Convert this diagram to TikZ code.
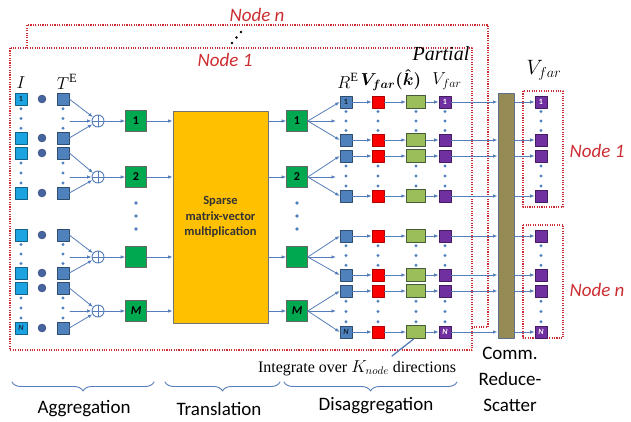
\documentclass[tikz,border=0pt]{standalone}
\usepackage{fontspec}
\setmainfont{Liberation Serif}
\setsansfont{Carlito}
\usetikzlibrary{arrows.meta,decorations.pathreplacing}

\definecolor{nodered}{RGB}{204,45,50}
\definecolor{inblue}{RGB}{28,163,226}
\definecolor{teblue}{RGB}{79,129,189}
\definecolor{linkblue}{RGB}{84,125,185}
\definecolor{prodblue}{RGB}{70,100,160}
\definecolor{aggreen}{RGB}{0,168,80}
\definecolor{smyellow}{RGB}{255,192,0}
\definecolor{kred}{RGB}{250,0,0}
\definecolor{partgreen}{RGB}{155,190,90}
\definecolor{partedge}{RGB}{70,90,60}
\definecolor{vpurple}{RGB}{112,48,160}
\definecolor{commbrown}{RGB}{150,139,85}
\definecolor{commedge}{RGB}{90,112,140}

\tikzset{
  sq/.style={draw, minimum size=12pt, inner sep=0pt, line width=0.6pt,
    font=\sffamily\bfseries\fontsize{8}{8}\selectfont},
  insq/.style={sq, fill=inblue, draw=inblue!60!black, text=teblue!30!black},
  tesq/.style={sq, fill=teblue, draw=teblue!60!black, text=teblue!25!black},
  ksq/.style={sq, fill=kred, draw=kred!70!black},
  vsq/.style={sq, fill=vpurple, draw=vpurple!60!black, text=white},
  partsq/.style={draw=partedge, fill=partgreen, line width=1.3pt,
    minimum width=19pt, minimum height=13pt, inner sep=0pt},
  grsq/.style={draw=black!60, fill=aggreen, minimum size=21pt, inner sep=0pt,
    line width=0.6pt, font=\sffamily\bfseries\fontsize{12}{12}\selectfont},
  prod/.style={circle, fill=prodblue, draw=prodblue!70!black,
    minimum size=8pt, inner sep=0pt},
  plus/.style={circle, draw=linkblue, line width=0.9pt, minimum size=12pt,
    inner sep=0pt, path picture={\draw[linkblue, line width=0.9pt]
      (path picture bounding box.north) -- (path picture bounding box.south)
      (path picture bounding box.west) -- (path picture bounding box.east);}},
  link/.style={draw=linkblue, line width=0.8pt, -{Latex[length=4.5pt,width=3.5pt]}},
  nodebox/.style={draw=nodered, line cap=butt, line width=1.1pt,
    dash pattern=on 1.1pt off 1.3pt},
  redlabel/.style={text=nodered, font=\sffamily\itshape\fontsize{19}{19}\selectfont},
  steplabel/.style={font=\sffamily\fontsize{19}{26}\selectfont, align=center},
  mathlabel/.style={inner sep=0.5pt, font=\fontsize{18}{18}\selectfont},
  stepbrace/.style={draw=linkblue, line width=0.9pt, decorate,
    decoration={brace, mirror, amplitude=9pt}}
}

\begin{document}
\begin{tikzpicture}[x=1pt, y=-1pt, line join=round, line cap=round]
\useasboundingbox (0,0) rectangle (631,421);

% dotted node boundaries
\draw[nodebox] (27,48) -- (27,25) -- (488,25) -- (488,327) -- (472,327);
\draw[nodebox] (10,48) rectangle (472,350);
\draw[nodebox] (523,91) rectangle (563,207);
\draw[nodebox] (523,225) rectangle (563,338);
\node[redlabel] (lbln) at (257,15) {Node n};
\node[redlabel] (lbl1) at (225,60) {Node 1};
\node[redlabel] (lblr1) at (597,151) {Node 1};
\node[redlabel] (lblrn) at (597,290) {Node n};
\foreach \p in {(232,43),(236.5,37.5),(241,32)}
    \fill[black] \p circle (1.4pt);

% column headings
\node[mathlabel] (lI) at (21,83) {$I$};
\node[mathlabel] (lT) at (67,82) {$T^{\mathrm{E}}$};
\node[mathlabel] (lR) at (348,81) {$R^{\mathrm{E}}$};
\node[mathlabel, font=\fontsize{17}{17}\selectfont\boldmath] (lVk) at (391,80)
    {$V_{far}(\hat{k})$};
\node[mathlabel] (lVp) at (447,81) {$V_{far}$};
\node[mathlabel, font=\fontsize{20}{20}\selectfont] (lVf) at (544,70) {$V_{far}$};
\node[inner sep=0.5pt, font=\itshape\fontsize{20}{20}\selectfont] (lpart) at (441,54) {Partial};

% translation block and communication bar
\node[draw=black!55, fill=smyellow, line width=0.8pt, minimum width=95pt,
      minimum height=212pt, align=center, text=black!80,
      font=\sffamily\bfseries\fontsize{12.5}{15.5}\selectfont]
      (smv) at (220.5,217) {Sparse\\matrix-vector\\multiplication};
\node[draw=commedge, fill=commbrown, line width=1pt, minimum width=16pt,
      minimum height=245pt, inner sep=0pt] (comm) at (506,215.5) {};

% aggregation inputs
\foreach \k/\y/\t in {1/99/1,2/138/{},3/153/{},4/193/{},5/235/{},6/273/{},7/288/{},8/328/\textit{N}}{
    \node[insq] (in\k) at (21,\y) {\t};
    \node[prod] (pr\k) at (42,\y) {};
    \node[tesq] (te\k) at (63,\y) {};
}

% disaggregation rows
\foreach \k/\y/\t in {1/102/1,2/140/{},3/156/{},4/196/{},5/236/{},6/275/{},7/291/{},8/332/\textit{N}}{
    \node[tesq] (re\k) at (346,\y) {\t};
    \node[ksq] (vk\k) at (378,\y) {};
    \node[partsq] (pv\k) at (416,\y) {};
    \node[vsq] (vp\k) at (445,\y) {\t};
    \node[vsq] (vf\k) at (541,\y) {\t};
    \draw[link] (re\k) -- (vk\k);
    \draw[link] (vk\k) -- (pv\k);
    \draw[link] (pv\k) -- (vp\k);
    \draw[link] (vp\k) -- (vp\k -| comm.west);
    \draw[link] (vf\k -| comm.east) -- (vf\k);
}

% sums and multipoles
\foreach \g/\y/\t in {1/121/1,2/177/2,3/257/{},4/311/\textit{M}}{
    \node[plus] (sum\g) at (98,\y) {};
    \node[grsq] (ga\g) at (136,\y) {\t};
    \node[grsq] (gt\g) at (297,\y) {\t};
    \coordinate (tm\g) at (70,\y);
    \coordinate (rm\g) at (336,\y);
    \draw[link] (tm\g) -- (sum\g);
    \draw[link] (sum\g) -- (ga\g);
    \draw[link] (ga\g) -- (ga\g -| smv.west);
    \draw[link] (gt\g -| smv.east) -- (gt\g);
    \draw[link] (gt\g.east) -- (rm\g);
}
\foreach \g/\a/\b in {1/1/2,2/3/4,3/5/6,4/7/8}{
    \draw[link] (te\a.east) -- (sum\g);
    \draw[link] (te\b.east) -- (sum\g);
    \draw[link] (gt\g.east) -- (re\a.west);
    \draw[link] (gt\g.east) -- (re\b.west);
}

% vertical ellipses
\foreach \x in {21,63}
  \foreach \a/\b in {99/138,153/193,235/273,288/328}
    \foreach \j in {1,2,3}
      \fill[teblue] (\x,{\a+(\b-\a)*\j/4}) circle (1.6pt);
\foreach \x in {346,378,416,445,541}
  \foreach \a/\b in {102/140,156/196,236/275,291/332}
    \foreach \j in {1,2,3}
      \fill[teblue] (\x,{\a+(\b-\a)*\j/4}) circle (1.6pt);
\foreach \x in {136,297}
  \foreach \y in {203,216,229}
    \fill[teblue] (\x,\y) circle (1.8pt);

% integration note
\node[font=\fontsize{16}{16}\selectfont] (integ) at (357,368)
    {Integrate over $K_{node}$ directions};
\coordinate (intg) at (392,356);
\draw[linkblue, line width=1.3pt] (intg) -- (pv8.-110);

% stage braces
\draw[stepbrace] (12,382) -- (154,382);
\draw[stepbrace] (165,382) -- (280,382);
\draw[stepbrace] (284,382) -- (457,382);
\node[steplabel] (agg) at (84,409) {Aggregation};
\node[steplabel] (trans) at (219,409) {Translation};
\node[steplabel] (disagg) at (376,406) {Disaggregation};
\node[steplabel] (commlbl) at (510,379) {Comm.\\Reduce-\\Scatter};
\end{tikzpicture}
\end{document}
